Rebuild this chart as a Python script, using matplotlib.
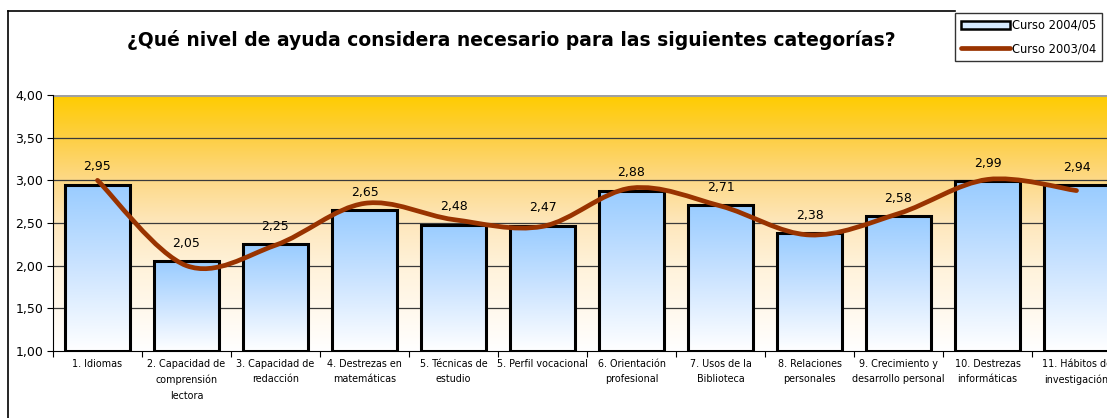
import numpy as np
import matplotlib
matplotlib.use("Agg")
import matplotlib.pyplot as plt
from matplotlib.path import Path
from matplotlib.patches import PathPatch, Rectangle
from matplotlib.lines import Line2D
from matplotlib.colors import LinearSegmentedColormap

# ---- data ----
categories = [
    "1. Idiomas",
    "2. Capacidad de\ncomprensión\nlectora",
    "3. Capacidad de\nredacción",
    "4. Destrezas en\nmatemáticas",
    "5. Técnicas de\nestudio",
    "5. Perfil vocacional",
    "6. Orientación\nprofesional",
    "7. Usos de la\nBiblioteca",
    "8. Relaciones\npersonales",
    "9. Crecimiento y\ndesarrollo personal",
    "10. Destrezas\ninformáticas",
    "11. Hábitos de\ninvestigación",
]
curso_2004_05 = [2.95, 2.05, 2.25, 2.65, 2.48, 2.47, 2.88, 2.71, 2.38, 2.58, 2.99, 2.94]
curso_2003_04 = [3.00, 2.00, 2.24, 2.73, 2.54, 2.46, 2.91, 2.70, 2.36, 2.61, 3.01, 2.88]
y_ticks = [1.0, 1.5, 2.0, 2.5, 3.0, 3.5, 4.0]
title = "¿Qué nivel de ayuda considera necesario para las siguientes categorías?"
legend_labels = ["Curso 2004/05", "Curso 2003/04"]

YMIN, YMAX = 1.0, 4.0
W, H = 1107, 418
plt.rcParams['font.family'] = ['DejaVu Sans']

fig = plt.figure(figsize=(W / 100, H / 100), dpi=100)
fig.patch.set_facecolor('white')

# axes in pixel layout (extends past right edge like the cropped original)
L, R, T, B = 53, 1121, 95, 351
ax = fig.add_axes([L / W, 1 - B / H, (R - L) / W, (B - T) / H])

n = len(categories)
x = np.arange(n)
ax.set_xlim(-0.5, n - 0.5)
ax.set_ylim(YMIN, YMAX)

# background gradient
bg_cmap = LinearSegmentedColormap.from_list(
    'bg', [(0.0, '#FFFFFF'), (0.33, '#FFF2DA'), (0.5, '#FEE7BC'),
           (0.67, '#FDD987'), (0.83, '#FDCF45'), (1.0, '#FFCC00')])
grad = np.linspace(0, 1, 256).reshape(-1, 1)
ax.imshow(grad, extent=[0, 1, 0, 1], transform=ax.transAxes, cmap=bg_cmap,
          origin='lower', aspect='auto', zorder=0)

# gridlines
for yv in y_ticks[1:-1]:
    ax.axhline(yv, color='#3a3a3a', lw=0.9, zorder=1)
ax.axhline(YMAX, color='#a0a0a0', lw=2.2, zorder=1)

# bars with gradient fill
bar_cmap = LinearSegmentedColormap.from_list('bar', ['#FFFFFF', '#CCE4FF', '#99CCFF'])
bars = ax.bar(x, np.array(curso_2004_05) - YMIN, bottom=YMIN, width=0.72,
              facecolor='none', edgecolor='black', linewidth=2.2, zorder=3)
for b in bars:
    x0, y0 = b.get_x(), b.get_y()
    im = ax.imshow(grad, extent=[x0, x0 + b.get_width(), y0, y0 + b.get_height()],
                   cmap=bar_cmap, origin='lower', aspect='auto', zorder=2)
    im.set_clip_path(b)

# data labels
for xi, v in zip(x, curso_2004_05):
    ax.annotate(f"{v:.2f}".replace('.', ','), (xi, v), xytext=(0, 13),
                textcoords='offset points', ha='center', va='center',
                fontsize=9, zorder=6)

# smoothed line (Catmull-Rom style Bezier, like Excel smoothing)
pts = np.column_stack([x, curso_2003_04]).astype(float)
verts = [tuple(pts[0])]
codes = [Path.MOVETO]
for i in range(n - 1):
    p0 = pts[i - 1] if i > 0 else pts[i]
    p1 = pts[i]
    p2 = pts[i + 1]
    p3 = pts[i + 2] if i + 2 < n else pts[i + 1]
    c1 = p1 + (p2 - p0) / 6.0
    c2 = p2 - (p3 - p1) / 6.0
    verts += [tuple(c1), tuple(c2), tuple(p2)]
    codes += [Path.CURVE4] * 3
ax.add_patch(PathPatch(Path(verts, codes), facecolor='none', edgecolor='#993300',
                       lw=3.4, capstyle='round', joinstyle='round', zorder=5))

# axes styling
for s in ['top', 'right']:
    ax.spines[s].set_visible(False)
ax.spines['left'].set_color('black')
ax.spines['bottom'].set_color('black')
ax.spines['left'].set_zorder(7)
ax.spines['bottom'].set_zorder(7)
ax.set_yticks(y_ticks)
ax.set_yticklabels([f"{t:.2f}".replace('.', ',') for t in y_ticks], fontsize=9)
ax.tick_params(axis='y', length=4, width=0.8, pad=3, direction='out')

# category labels (centered multi-line text under each category)
ax.set_xticks(x)
ax.set_xticklabels([''] * n)
ax.tick_params(axis='x', which='major', length=0)
for xi, lab in zip(x, categories):
    ax.annotate(lab, xy=(xi, 0), xycoords=('data', 'axes fraction'),
                xytext=(0, -5.5), textcoords='offset points',
                ha='center', va='top', multialignment='center',
                fontsize=6.9, linespacing=1.72, annotation_clip=False)
ax.set_xticks(np.arange(n + 1) - 0.5, minor=True)
ax.tick_params(axis='x', which='minor', length=4, width=0.8, direction='out')

# title
fig.text(511 / W, 1 - 40 / H, title, ha='center', va='center',
         fontsize=13.5, fontweight='bold')

# outer frame lines (top and left)
fig.add_artist(Line2D([8 / W, 955 / W], [1 - 11 / H, 1 - 11 / H], color='black', lw=1.2,
                      transform=fig.transFigure))
fig.add_artist(Line2D([8 / W, 8 / W], [1 - 11 / H, 0], color='black', lw=1.2,
                      transform=fig.transFigure))

# legend
h_bar = Rectangle((0, 0), 1, 1, facecolor='#D6EAFF', edgecolor='black', lw=1.8)
h_line = Line2D([], [], color='#993300', lw=3.4, solid_capstyle='round')
leg = fig.legend([h_bar, h_line], legend_labels, loc='upper left',
                 bbox_to_anchor=(955 / W, 1 - 13 / H), borderaxespad=0,
                 fontsize=8.3, frameon=True, fancybox=False, shadow=False,
                 handlelength=4.3, handleheight=0.75, handletextpad=0.15,
                 borderpad=0.5, labelspacing=0.9)
leg.get_frame().set_edgecolor('black')
leg.get_frame().set_linewidth(1.0)

fig.savefig('out.png', dpi=100)
